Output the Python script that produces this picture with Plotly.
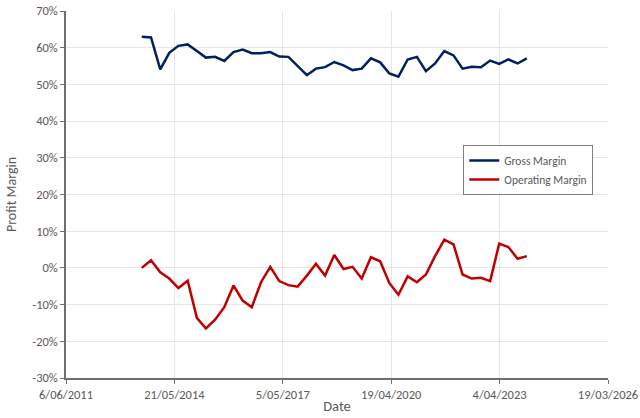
import plotly.graph_objects as go
import pandas as pd

dates = pd.date_range("2013-06-30", periods=43, freq="QE").strftime("%Y-%m-%d").tolist()

gross_margin = [63.0, 62.8, 54.1, 58.6, 60.5, 60.9, 59.1, 57.3, 57.5, 56.4,
                58.8, 59.5, 58.5, 58.5, 58.8, 57.6, 57.5, 55.0, 52.5, 54.3,
                54.7, 56.1, 55.2, 53.9, 54.3, 57.1, 56.0, 53.0, 52.1, 56.8,
                57.5, 53.6, 55.7, 59.1, 57.9, 54.3, 54.8, 54.7, 56.5, 55.6,
                56.8, 55.7, 57.1]

operating_margin = [0.0, 2.1, -1.2, -2.9, -5.5, -3.5, -13.6, -16.5, -14.1, -10.7,
                    -4.8, -8.9, -10.7, -3.9, 0.3, -3.6, -4.7, -5.1, -2.1, 1.1,
                    -2.1, 3.5, -0.3, 0.3, -2.9, 2.9, 1.8, -4.1, -7.3, -2.3,
                    -3.9, -1.8, 3.2, 7.7, 6.4, -1.8, -2.9, -2.7, -3.6, 6.6,
                    5.7, 2.5, 3.2]

x_tick_vals = ["2011-06-06", "2014-05-21", "2017-05-05", "2020-04-19", "2023-04-04", "2026-03-19"]
x_tick_text = ["6/06/2011", "21/05/2014", "5/05/2017", "19/04/2020", "4/04/2023", "19/03/2026"]
y_tick_vals = [-30, -20, -10, 0, 10, 20, 30, 40, 50, 60, 70]
y_tick_text = [f"{v}%" for v in y_tick_vals]

font_family = "Calibri, Carlito, Lato, sans-serif"
axis_color = "#6f6f6f"
text_color = "#595959"

fig = go.Figure()
fig.add_trace(go.Scatter(x=dates, y=gross_margin, mode="lines", name="Gross Margin",
                         line=dict(color="#002060", width=2.5)))
fig.add_trace(go.Scatter(x=dates, y=operating_margin, mode="lines", name="Operating Margin",
                         line=dict(color="#C00000", width=2.5)))

fig.update_layout(
    width=640, height=418,
    margin=dict(l=66, r=32, t=11, b=40),
    paper_bgcolor="white", plot_bgcolor="white",
    font=dict(family=font_family, size=12, color=text_color),
    showlegend=True,
    legend=dict(x=0.733, y=0.635, xanchor="left", yanchor="top",
                bordercolor="#7f7f7f", borderwidth=1, bgcolor="white",
                font=dict(size=11.5, color=text_color), tracegroupgap=0,
                itemwidth=30),
    xaxis=dict(
        range=["2011-06-06", "2026-03-19"],
        tickmode="array", tickvals=x_tick_vals, ticktext=x_tick_text,
        showgrid=True, gridcolor="#e6e6e6", gridwidth=1,
        showline=True, linecolor=axis_color, linewidth=1.5,
        ticks="outside", ticklen=4, tickcolor=axis_color,
        tickfont=dict(size=12.5),
        title=dict(text="Date", font=dict(size=14.5, color=text_color), standoff=0),
        zeroline=False, automargin=False,
    ),
    yaxis=dict(
        range=[-30, 70],
        tickmode="array", tickvals=y_tick_vals, ticktext=y_tick_text,
        showgrid=True, gridcolor="#e6e6e6", gridwidth=1,
        showline=True, linecolor=axis_color, linewidth=1.5,
        ticks="outside", ticklen=4, tickcolor=axis_color,
        tickfont=dict(size=12.5),
        title=dict(text="Profit Margin", font=dict(size=14, color=text_color), standoff=12),
        zeroline=False, automargin=False,
    ),
)

fig.write_html("out.html")
